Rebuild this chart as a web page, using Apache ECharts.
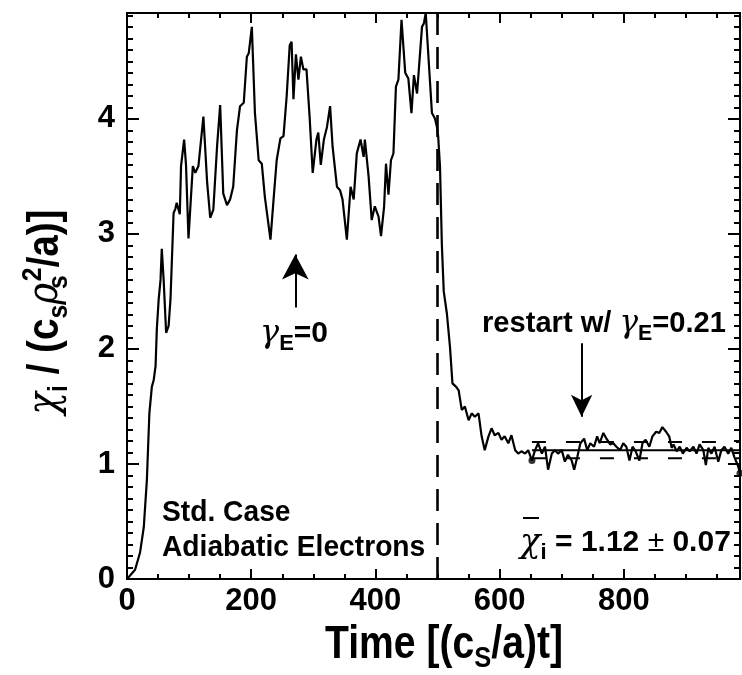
<!DOCTYPE html>
<html><head><meta charset="utf-8">
<script src="https://cdn.jsdelivr.net/npm/echarts@6/dist/echarts.min.js"></script>
<style>html,body{margin:0;padding:0;background:#fff}#c{width:742px;height:675px}</style>
</head><body><div id="c"></div>
<script>
// ---- data ----
const timeVals = [0,13,21,27,32,36,40,43,46,48,51,54,56,59,63,67,70,75,78,80,85,87,92,95,99,106,110,115,118,123,129,134,139,145,150,155,161,166,171,177,182,188,193,196,201,206,212,217,222,231,236,241,247,252,257,262,265,268,272,276,280,284,289,294,299,305,308,312,317,322,327,331,338,343,347,354,360,365,370,376,381,383,389,394,399,405,409,414,417,421,425,429,433,437,442,448,453,458,462,467,475,478,481,485,491,496,499,501,504,507,510,515,520,524,530,534,539,544,550,555,560,566,571,576,582,587,592,598,603,608,614,619,625,630,635,641,646,652,657,662,668,673,678,684,689,694,700,705,710,716,720,725,730,736,741,746,752,757,761,767,772,778,783,788,794,799,804,809,814,819,825,830,835,841,846,852,857,862,868,873,877,880,885,890,895,901,906,912,917,922,928,932,936,941,946,952,957,962,968,973,978,984,987];
const chiVals = [0.0,0.08,0.23,0.45,0.86,1.44,1.67,1.73,1.85,2.17,2.43,2.6,2.87,2.6,2.14,2.2,2.43,3.18,3.22,3.27,3.17,3.59,3.82,3.6,2.96,3.59,3.53,3.59,3.6,4.02,3.45,3.14,3.21,3.76,4.12,3.35,3.25,3.3,3.41,3.9,4.11,4.14,4.54,4.57,4.8,4.05,3.64,3.61,3.32,2.95,3.3,3.64,3.83,3.85,4.19,4.64,4.67,4.17,4.56,4.34,4.54,4.43,4.43,4.02,3.53,3.82,3.88,3.6,3.82,3.93,4.11,3.76,3.41,3.38,3.3,2.95,3.41,3.3,3.7,3.82,3.67,3.82,3.5,3.12,3.24,3.15,2.98,3.24,3.61,3.34,3.64,3.7,4.28,4.34,4.86,4.4,4.35,4.05,4.38,4.22,4.8,4.83,4.92,4.57,4.05,4.0,3.93,3.85,3.58,2.9,2.5,2.31,2.02,1.7,1.67,1.64,1.47,1.5,1.38,1.44,1.41,1.44,1.24,1.12,1.24,1.31,1.25,1.27,1.21,1.24,1.18,1.25,1.12,1.09,1.11,1.09,1.12,1.03,1.12,1.18,1.09,1.15,0.95,1.09,1.12,1.09,1.12,1.02,1.08,1.03,0.95,1.06,1.18,1.22,1.12,1.18,1.15,1.24,1.18,1.27,1.22,1.17,1.18,1.15,1.12,1.18,1.15,1.03,1.15,1.11,1.03,1.18,1.21,1.15,1.24,1.28,1.27,1.32,1.28,1.24,1.14,1.17,1.11,1.15,1.09,1.14,1.11,1.15,1.09,1.17,1.12,0.99,1.14,1.09,1.15,1.02,1.12,1.15,1.09,1.14,1.06,0.98,0.92];
const restartTime = 500;
const avgWindow = [652, 987];
const avgMean = 1.12;
const avgStd = 0.07;
const avgEndChi = [1.03, 0.92];
const upArrow = [[271, 2.36], [271, 2.82]];
const downArrow = [[732, 2.05], [732, 1.41]];
const xTicksMajor = 200, xTicksMinor = 50, xMax = 987;
const yTicksMajor = 1, yTicksMinor = 0.1, yMax = 4.92;

const FF = '"Liberation Sans", Arial, sans-serif';
const chart = echarts.init(document.getElementById('c'));

function xAx(pos, interval, len, labels) {
  return {type:'value', position:pos, min:0, max:xMax, interval:interval, gridIndex:0,
    axisLine:{show:true, onZero:false, lineStyle:{color:'#000', width:2}},
    axisTick:{show:true, inside:true, length:len, lineStyle:{color:'#000', width:2}},
    splitLine:{show:false},
    axisLabel:{show:labels, showMaxLabel:false, margin:7, color:'#000', fontFamily:FF, fontWeight:'bold', fontSize:31}};
}
function yAx(pos, interval, len, labels) {
  return {type:'value', position:pos, min:0, max:yMax, interval:interval, gridIndex:0,
    axisLine:{show:true, onZero:false, lineStyle:{color:'#000', width:2}},
    axisTick:{show:true, inside:true, length:len, lineStyle:{color:'#000', width:2}},
    splitLine:{show:false},
    axisLabel:{show:labels, showMaxLabel:false, margin:12, color:'#000', fontFamily:FF, fontWeight:'bold', fontSize:31,
      formatter: v => String(Math.round(v))}};
}

const series = [
  {type:'line', data: timeVals.map((t,i)=>[t, chiVals[i]]), showSymbol:false, symbol:'none',
   lineStyle:{color:'#000', width:2.2}, animation:false, z:5,
   markLine:{silent:true, symbol:'none', animation:false, label:{show:false},
     lineStyle:{color:'#000', width:2.6, type:[22,12]},
     data:[{xAxis:restartTime}]}},
  {type:'line', data: avgWindow.map(t=>[t, avgMean]), showSymbol:false, lineStyle:{color:'#000', width:2}, animation:false},
  {type:'line', data: avgWindow.map(t=>[t, avgMean+avgStd]), showSymbol:false, lineStyle:{color:'#000', width:2, type:[14,20]}, animation:false},
  {type:'line', data: avgWindow.map(t=>[t, avgMean-avgStd]), showSymbol:false, lineStyle:{color:'#000', width:2, type:[14,20]}, animation:false},
  {type:'scatter', data: avgWindow.map((t,i)=>[t, avgEndChi[i]]), symbolSize:7, itemStyle:{color:'#000'}, animation:false, z:6},
  {type:'line', data:[], animation:false,
   markLine:{silent:true, animation:false, label:{show:false}, lineStyle:{color:'#000', width:2, type:'solid'},
     data:[
       [{coord:upArrow[0], symbol:'none'}, {coord:upArrow[1], symbol:'arrow', symbolSize:[20,25]}],
       [{coord:downArrow[0], symbol:'none'}, {coord:downArrow[1], symbol:'arrow', symbolSize:[16,22]}]
     ]}}
];

const sub = (fs, dy) => ({fontFamily:FF, fontWeight:'bold', fontSize:fs, lineHeight:fs, padding:[dy,0,0,0], verticalAlign:'middle'});
const sup = (fs, dy) => ({fontFamily:FF, fontWeight:'bold', fontSize:fs, lineHeight:fs, padding:[0,0,dy,0], verticalAlign:'middle'});
const main = fs => ({fontFamily:FF, fontWeight:'bold', fontSize:fs, lineHeight:fs+4, verticalAlign:'middle'});
const greek = fs => ({fontFamily:'"DejaVu Serif", serif', fontStyle:'italic', fontWeight:'normal', fontSize:fs, lineHeight:fs+4, verticalAlign:'middle'});

const graphic = [
  {type:'text', x:444, y:645, scaleX:0.85, style:{text:'{m|Time [(c}{s|S}{m|/a)t]}', align:'center', verticalAlign:'middle', fill:'#000',
     rich:{m:main(46), s:sub(30,28)}}},
  {type:'text', x:46, y:312, rotation:Math.PI/2, scaleX:0.88, style:{text:'{g|χ}{s|i}{m| / (c}{s|s}{g|ρ}{s2|s}{p|2}{m|/a)]}', align:'center', verticalAlign:'middle', fill:'#000',
     rich:{m:main(44), g:greek(42), s:sub(28,26), s2:Object.assign(sub(28,26),{width:2}), p:sup(28,26)}}},
  {type:'text', x:260, y:334, style:{text:'{g|γ}{s|E}{m|=0}', align:'left', verticalAlign:'middle', fill:'#000',
     rich:{m:main(30), g:greek(32), s:sub(22,20)}}},
  {type:'text', x:482, y:324, scaleX:0.97, style:{text:'{m|restart w/ }{g|γ}{s|E}{m|=0.21}', align:'left', verticalAlign:'middle', fill:'#000',
     rich:{m:main(30), g:greek(32), s:sub(22,20)}}},
  {type:'text', x:162, y:513, scaleX:0.94, style:{text:'Std. Case', font:'bold 30px '+FF, align:'left', verticalAlign:'middle', fill:'#000'}},
  {type:'text', x:162, y:548, scaleX:0.94, style:{text:'Adiabatic Electrons', font:'bold 30px '+FF, align:'left', verticalAlign:'middle', fill:'#000'}},
  {type:'text', x:520, y:543, style:{text:'{g|χ}{s|i}{m| = 1.12 }{n|±}{m| 0.07}', align:'left', verticalAlign:'middle', fill:'#000',
     rich:{m:main(30), g:greek(34), n:{fontFamily:FF, fontSize:30, lineHeight:34, verticalAlign:'middle'}, s:sub(22,20)}}},
  {type:'line', shape:{x1:523, y1:518, x2:539, y2:518}, style:{stroke:'#000', lineWidth:2}}
];

chart.setOption({
  animation:false,
  grid:{left:127, right:2, top:13, bottom:96, containLabel:false},
  xAxis:[xAx('bottom', xTicksMajor, 10, true), xAx('bottom', xTicksMinor, 5, false), xAx('top', xTicksMajor, 10, false), xAx('top', xTicksMinor, 5, false)],
  yAxis:[yAx('left', yTicksMajor, 12, true), yAx('left', yTicksMinor, 6, false), yAx('right', yTicksMajor, 12, false), yAx('right', yTicksMinor, 6, false)],
  series: series,
  graphic: graphic
});
</script></body></html>
